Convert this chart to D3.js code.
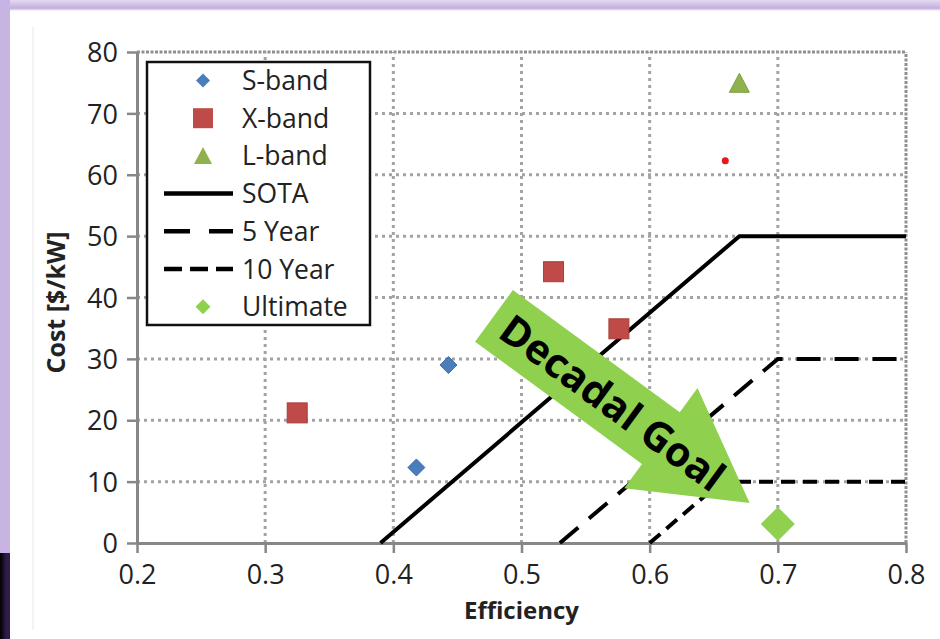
<!DOCTYPE html>
<html>
<head>
<meta charset="utf-8">
<script src="https://cdn.jsdelivr.net/npm/d3@7"></script>
<style>
  body { margin: 0; background: #fff; }
  svg { display: block; font-family: "Open Sans", sans-serif; }
</style>
</head>
<body>
<script>
// data
const xTicks = [0.2, 0.3, 0.4, 0.5, 0.6, 0.7, 0.8];
const yTicks = [0, 10, 20, 30, 40, 50, 60, 70, 80];

const sBand = [[0.418, 12.3], [0.443, 29.0]];
const xBand = [[0.325, 21.2], [0.525, 44.2], [0.576, 34.9]];
const lBand = [[0.670, 74.9]];
const ultimate = [[0.700, 3.1]];
const redDot = [[0.659, 62.3]];

const sota = [[0.39, 0], [0.67, 50], [0.8, 50]];
const fiveYear = [[0.53, 0], [0.70, 30], [0.8, 30]];
const tenYear = [[0.60, 0], [0.656, 10], [0.8, 10]];

// arrow annotation (back centre -> tip, in data units)
const goalArrow = [[0.4785, 37.0], [0.678, 6.5]];
const goalText = "Decadal Goal";

const legendItems = ["S-band", "X-band", "L-band", "SOTA", "5 Year", "10 Year", "Ultimate"];

const width = 940;
const height = 639;

margin = {
    top: 52,
    right: 34,
    bottom: 96,
    left: 137
};

const x = d3.scaleLinear()
    .domain([0.2, 0.8])
    .range([margin.left, width - margin.right]);

const y = d3.scaleLinear()
    .domain([0, 80])
    .range([height - margin.bottom, margin.top]);

const svg = d3.select("body").append("svg")
    .attr("width", width)
    .attr("height", height);

const defs = svg.append("defs");
const topGrad = defs.append("linearGradient").attr("id", "topband")
    .attr("x1", 0).attr("y1", 0).attr("x2", 0).attr("y2", 1);
topGrad.append("stop").attr("offset", "0%").attr("stop-color", "#e4daf0");
topGrad.append("stop").attr("offset", "75%").attr("stop-color", "#c3aee0");
topGrad.append("stop").attr("offset", "100%").attr("stop-color", "#ffffff");
const darkGrad = defs.append("linearGradient").attr("id", "darkband")
    .attr("x1", 0).attr("y1", 0).attr("x2", 1).attr("y2", 0);
darkGrad.append("stop").attr("offset", "0%").attr("stop-color", "#000000");
darkGrad.append("stop").attr("offset", "60%").attr("stop-color", "#2c1c46");
darkGrad.append("stop").attr("offset", "100%").attr("stop-color", "#2e1e4a");

// frame
svg.append("rect").attr("width", width).attr("height", height).attr("fill", "#fff");
svg.append("rect").attr("x", 0).attr("y", 0).attr("width", width).attr("height", 11).attr("fill", "url(#topband)");
svg.append("rect").attr("x", 0).attr("y", 0).attr("width", 10).attr("height", 553).attr("fill", "#c8b4e3");
svg.append("rect").attr("x", 0).attr("y", 553).attr("width", 10).attr("height", height - 553).attr("fill", "url(#darkband)");
svg.append("line").attr("x1", 33).attr("x2", 33).attr("y1", 27).attr("y2", 630)
    .attr("stroke", "#f1f1f1").attr("stroke-width", 1.5);

// gridlines
const grid = svg.append("g").attr("fill", "none");
grid.selectAll(".hg").data(yTicks.filter(d => d > 0)).join("line")
    .attr("x1", x(0.2)).attr("x2", x(0.8))
    .attr("y1", d => y(d)).attr("y2", d => y(d))
    .attr("stroke", d => d === 80 ? "#8f8f8f" : "#a3a3a3")
    .attr("stroke-width", 3)
    .attr("stroke-dasharray", d => d === 80 ? "3,1.5" : "3,4");
grid.selectAll(".vg").data(xTicks.filter(d => d > 0.2)).join("line")
    .attr("x1", d => x(d)).attr("x2", d => x(d))
    .attr("y1", y(0)).attr("y2", y(80))
    .attr("stroke", d => d === 0.8 ? "#8f8f8f" : "#a3a3a3")
    .attr("stroke-width", 3)
    .attr("stroke-dasharray", d => d === 0.8 ? "3,1.5" : "3,4");

// axes
const xAxis = svg.append("g")
    .attr("transform", `translate(0,${y(0)})`)
    .call(d3.axisBottom(x).tickValues(xTicks).tickSize(10).tickSizeOuter(0).tickPadding(12)
        .tickFormat(d3.format(".1f")));
const yAxis = svg.append("g")
    .attr("transform", `translate(${x(0.2)},0)`)
    .call(d3.axisLeft(y).tickValues(yTicks).tickSize(10).tickSizeOuter(0).tickPadding(9)
        .tickFormat(d3.format("d")));
[xAxis, yAxis].forEach(g => {
    g.select(".domain").attr("stroke", "#878787").attr("stroke-width", 3);
    g.selectAll(".tick line").attr("stroke", "#878787").attr("stroke-width", 2.5);
    g.selectAll(".tick text").attr("fill", "#222")
        .attr("font-family", "Open Sans").attr("font-size", 27);
});
yAxis.selectAll(".tick text").attr("dy", "0.36em");

svg.append("text")
    .attr("x", (x(0.2) + x(0.8)) / 2).attr("y", 619)
    .attr("text-anchor", "middle")
    .attr("font-weight", "bold").attr("font-size", 24).attr("fill", "#222")
    .text("Efficiency");
svg.append("text")
    .attr("transform", `translate(65,${(y(0) + y(80)) / 2 + 5}) rotate(-90)`)
    .attr("text-anchor", "middle")
    .attr("font-weight", "bold").attr("font-size", 25).attr("fill", "#222")
    .text("Cost [$/kW]");

// lines
const line = d3.line().x(d => x(d[0])).y(d => y(d[1]));
svg.append("path").datum(sota).attr("d", line)
    .attr("fill", "none").attr("stroke", "#000").attr("stroke-width", 4);
svg.append("path").datum(fiveYear).attr("d", line)
    .attr("fill", "none").attr("stroke", "#000").attr("stroke-width", 4)
    .attr("stroke-dasharray", "24,14");
svg.append("path").datum(tenYear).attr("d", line)
    .attr("fill", "none").attr("stroke", "#000").attr("stroke-width", 4)
    .attr("stroke-dasharray", "14,8");

// decadal goal arrow
const b = [x(goalArrow[0][0]), y(goalArrow[0][1])];
const t = [x(goalArrow[1][0]), y(goalArrow[1][1])];
const len = Math.hypot(t[0] - b[0], t[1] - b[1]);
const ang = Math.atan2(t[1] - b[1], t[0] - b[0]) * 180 / Math.PI;
const headLen = 110, shaftW = 32, headW = 62;
const arrowG = svg.append("g").attr("transform", `translate(${b[0]},${b[1]}) rotate(${ang})`);
arrowG.append("path")
    .attr("d", `M0,${-shaftW}L${len - headLen},${-shaftW}L${len - headLen},${-headW}L${len},0L${len - headLen},${headW}L${len - headLen},${shaftW}L0,${shaftW}Z`)
    .attr("fill", "#8fd14f");
arrowG.append("text")
    .attr("x", 147).attr("y", 0).attr("dy", "0.36em")
    .attr("text-anchor", "middle")
    .attr("font-weight", "bold").attr("font-size", 41).attr("fill", "#000")
    .text(goalText);

// markers
const diamond = s => `M0,${-s}L${s},0L0,${s}L${-s},0Z`;
const triangle = s => `M0,${-s}L${s},${s * 0.9}L${-s},${s * 0.9}Z`;

svg.selectAll(".sb").data(sBand).join("path")
    .attr("transform", d => `translate(${x(d[0])},${y(d[1])})`)
    .attr("d", diamond(8.5)).attr("fill", "#4a7ebb").attr("stroke", "#3e6ea6").attr("stroke-width", 1);
svg.selectAll(".xb").data(xBand).join("rect")
    .attr("x", d => x(d[0]) - 10).attr("y", d => y(d[1]) - 10)
    .attr("width", 20).attr("height", 20)
    .attr("fill", "#be4b48").attr("stroke", "#a83f3c").attr("stroke-width", 1);
svg.selectAll(".lb").data(lBand).join("path")
    .attr("transform", d => `translate(${x(d[0])},${y(d[1])})`)
    .attr("d", triangle(10)).attr("fill", "#8fb24f").attr("stroke", "#7f9f45").attr("stroke-width", 1);
svg.selectAll(".ul").data(ultimate).join("path")
    .attr("transform", d => `translate(${x(d[0])},${y(d[1])})`)
    .attr("d", diamond(17)).attr("fill", "#8fd14f");
svg.selectAll(".rd").data(redDot).join("circle")
    .attr("cx", d => x(d[0])).attr("cy", d => y(d[1])).attr("r", 3.5)
    .attr("fill", "#e8171b");

// legend
const lg = svg.append("g");
lg.append("rect").attr("x", 147).attr("y", 62).attr("width", 223).attr("height", 263)
    .attr("fill", "#fff").attr("stroke", "#111").attr("stroke-width", 2.5);
const rowY = i => 80.5 + i * 37.7;
lg.selectAll("text").data(legendItems).join("text")
    .attr("x", 242).attr("y", (d, i) => rowY(i)).attr("dy", "0.36em")
    .attr("font-size", 26.5).attr("fill", "#222")
    .text(d => d);
lg.append("path").attr("transform", `translate(203,${rowY(0)})`).attr("d", diamond(7))
    .attr("fill", "#4a7ebb");
lg.append("rect").attr("x", 193).attr("y", rowY(1) - 10).attr("width", 20).attr("height", 20)
    .attr("fill", "#be4b48");
lg.append("path").attr("transform", `translate(203,${rowY(2)})`).attr("d", triangle(9))
    .attr("fill", "#8fb24f");
[["none", 3], ["26,19", 4], ["18,8", 5]].forEach((s, i) => {
    lg.append("line").attr("x1", 164).attr("x2", 233)
        .attr("y1", rowY(i + 3)).attr("y2", rowY(i + 3))
        .attr("stroke", "#000").attr("stroke-width", 4.5)
        .attr("stroke-dasharray", s[0]);
});
lg.append("path").attr("transform", `translate(203,${rowY(6)})`).attr("d", diamond(7.5))
    .attr("fill", "#8fd14f");
</script>
</body>
</html>
